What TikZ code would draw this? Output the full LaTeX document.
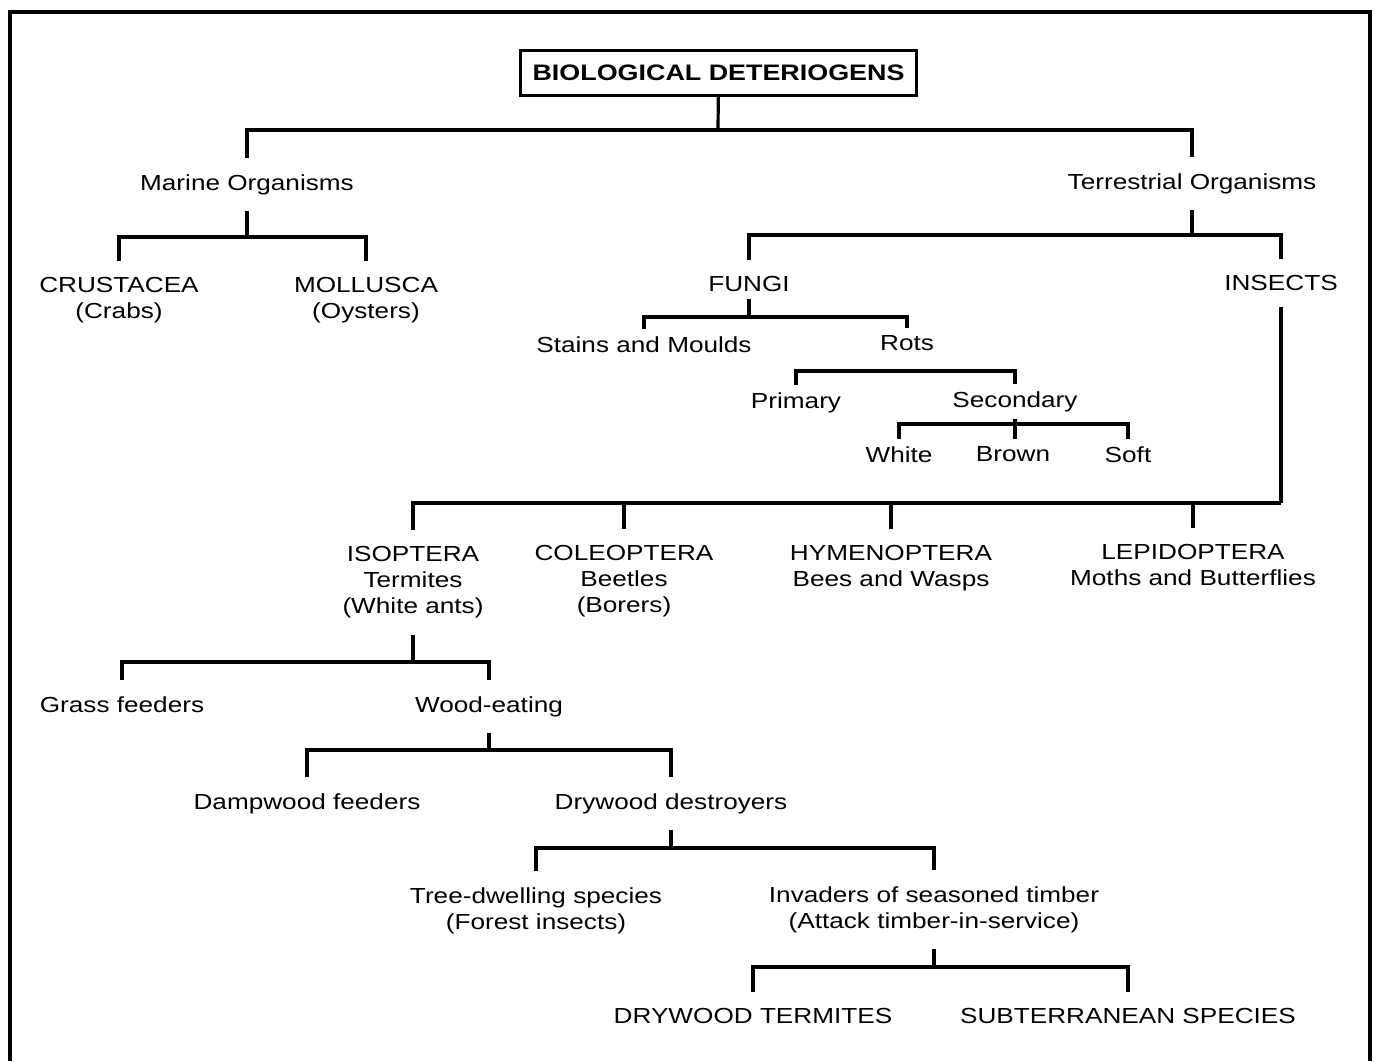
\documentclass[tikz,border=0pt]{standalone}
\usepackage{fontspec}
\setmainfont[FakeStretch=1.2]{Liberation Sans}
\usepackage{tikz}
\tikzstyle{heading} = [
    rectangle,
    minimum width=198pt,
    minimum height=22.5pt,
    line width=1.5pt,
    draw=black,
    font=\fontsize{11.2}{13}\selectfont\bfseries
]
\tikzstyle{taxon} = [
    anchor=north,
    align=center,
    inner xsep=0pt,
    inner ysep=8pt
]
\tikzstyle{subtaxon} = [
    taxon,
    inner ysep=3.5pt
]
\tikzstyle{branch} = [line width=1.6pt]

\begin{document}
\begin{tikzpicture}[x=0.5pt, y=-0.5pt, font=\fontsize{10.9}{13}\selectfont]
\useasboundingbox (0,0) rectangle (1375,1061);
\draw [line width=2pt] (10,1061) -- (10,12) -- (1370,12) -- (1370,1061);

\node (bio) [heading] at (718.5,72.5) {BIOLOGICAL DETERIOGENS};

\node (mar) [taxon] at (247,158) {Marine Organisms};
\node (ter) [taxon] at (1192,157) {Terrestrial Organisms};

\node (crus) [taxon] at (119,261) {CRUSTACEA\\(Crabs)};
\node (moll) [taxon] at (366,261) {MOLLUSCA\\(Oysters)};

\node (fungi) [taxon] at (749,260) {FUNGI};
\node (ins) [taxon] at (1281,259) {INSECTS};

\node (stain) [subtaxon] at (644,329) {Stains and Moulds};
\node (rots) [subtaxon] at (907,328) {Rots};
\node (prim) [subtaxon] at (796,385) {Primary};
\node (sec) [subtaxon] at (1015,384) {Secondary};
\node (white) [subtaxon] at (899,439) {White};
\node (brown) [subtaxon] at (1013,439) {Brown};
\node (soft) [subtaxon] at (1128,439) {Soft};

\node (isop) [taxon] at (413,530) {ISOPTERA\\Termites\\(White ants)};
\node (cole) [taxon] at (624,529) {COLEOPTERA\\Beetles\\(Borers)};
\node (hyme) [taxon] at (891,529) {HYMENOPTERA\\Bees and Wasps};
\node (lepi) [taxon] at (1193,528) {LEPIDOPTERA\\Moths and Butterflies};

\node (grass) [taxon] at (122,680) {Grass feeders};
\node (wood) [taxon] at (489,680) {Wood-eating};
\node (damp) [taxon] at (307,777) {Dampwood feeders};
\node (dry) [taxon] at (671,777) {Drywood destroyers};
\node (tree) [taxon] at (536,871) {Tree-dwelling species\\(Forest insects)};
\node (inv) [taxon] at (934,870) {Invaders of seasoned timber\\(Attack timber-in-service)};
\node (dterm) [taxon] at (753,992) {DRYWOOD TERMITES};
\node (subt) [taxon] at (1128,992) {SUBTERRANEAN SPECIES};

\coordinate (jtop) at (718,130);
\coordinate (jmar) at (247,237);
\coordinate (jter) at (1192,235);
\coordinate (jfun) at (749,317);
\coordinate (jrot) at (1015,371);
\coordinate (jsec) at (1015,424);
\coordinate (jins) at (1281,503);
\coordinate (jisop) at (413,662);
\coordinate (jwood) at (489,750);
\coordinate (jdry) at (671,848);
\coordinate (jinv) at (934,967);

\draw [branch] (bio) -- (jtop);
\draw [branch] (mar) |- (jtop) -| (ter);
\draw [branch] (mar) -- (jmar);
\draw [branch] (crus) |- (jmar) -| (moll);
\draw [branch] (ter) -- (jter);
\draw [branch] (fungi) |- (jter) -| (ins);
\draw [branch] ([yshift=4.5pt]fungi.south) -- (jfun);
\draw [branch] (stain) |- (jfun) -| (rots);
\draw [branch] (prim) |- (jrot) -- (sec);
\draw [branch] (sec) -- (sec |- brown.north);
\draw [branch] (white) |- (jsec) -| (soft);
\draw [branch] (ins) -- (jins);
\draw [branch] (isop) |- (jins);
\draw [branch] (cole) -- (cole |- jins);
\draw [branch] (hyme) -- (hyme |- jins);
\draw [branch] (lepi) -- (lepi |- jins);
\draw [branch] (isop) -- (jisop);
\draw [branch] (grass) |- (jisop) -| (wood);
\draw [branch] (wood) -- (jwood);
\draw [branch] (damp) |- (jwood) -| (dry);
\draw [branch] (dry) -- (jdry);
\draw [branch] (tree) |- (jdry) -| (inv);
\draw [branch] (inv) -- (jinv);
\draw [branch] (dterm) |- (jinv) -| (subt);

\end{tikzpicture}
\end{document}
